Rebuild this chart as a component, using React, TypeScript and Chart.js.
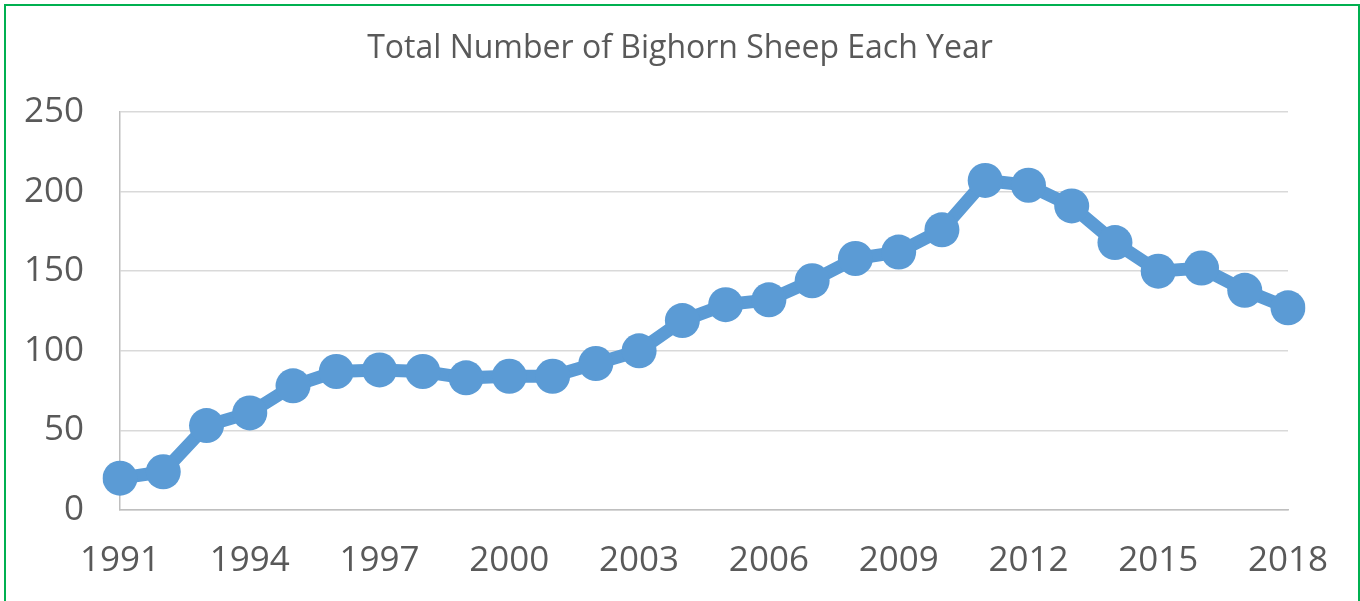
import React, { useEffect, useRef } from "react";
import { Chart, registerables } from "chart.js";

Chart.register(...registerables);

const years: string[] = [
  "1991", "1992", "1993", "1994", "1995", "1996", "1997", "1998", "1999", "2000",
  "2001", "2002", "2003", "2004", "2005", "2006", "2007", "2008", "2009", "2010",
  "2011", "2012", "2013", "2014", "2015", "2016", "2017", "2018",
];

const sheepCounts: number[] = [
  20, 24, 53, 61, 78, 87, 88, 87, 83, 84,
  84, 92, 100, 119, 129, 132, 144, 158, 162, 176,
  207, 204, 191, 168, 150, 152, 138, 127,
];

const yTicks: number[] = [0, 50, 100, 150, 200, 250];

const chartTitle = "Total Number of Bighorn Sheep Each Year";

export default function App() {
  const canvasRef = useRef<HTMLCanvasElement | null>(null);

  useEffect(() => {
    document.body.style.margin = "0";
    const canvas = canvasRef.current;
    if (!canvas) return;
    const font = "'Open Sans', sans-serif";
    const chart = new Chart(canvas, {
      type: "line",
      data: {
        labels: years,
        datasets: [
          {
            data: sheepCounts,
            borderColor: "#5B9BD5",
            backgroundColor: "#5B9BD5",
            borderWidth: 13,
            pointRadius: 17.5,
            pointHoverRadius: 17.5,
            pointBorderWidth: 0,
            pointBackgroundColor: "#5B9BD5",
            tension: 0,
            yAxisID: "y",
          },
        ],
      },
      options: {
        responsive: false,
        animation: false,
        layout: { padding: 0 },
        plugins: {
          legend: { display: false },
          tooltip: { enabled: false },
          title: {
            display: true,
            text: chartTitle,
            color: "#595959",
            font: { family: font, size: 32, weight: "normal", lineHeight: 1.2 },
            padding: { top: 30, bottom: 43.6 },
          },
        },
        scales: {
          x: {
            offset: false,
            grid: { display: false, drawTicks: false },
            border: { display: true, color: "#BFBFBF", width: 1.5 },
            ticks: {
              color: "#595959",
              font: { family: font, size: 35 },
              padding: 30,
              maxRotation: 0,
              autoSkip: false,
              callback: (_v: any, i: number) => (i % 3 === 0 ? years[i] : ""),
            },
            afterFit: (scale: any) => {
              scale.height = 91;
            },
          },
          y: {
            min: 0,
            max: 250,
            afterBuildTicks: (scale: any) => {
              scale.ticks = yTicks.map((v) => ({ value: v }));
            },
            grid: { color: "#D9D9D9", lineWidth: 1.5, drawTicks: false },
            border: { display: true, color: "#BFBFBF", width: 1.5 },
            ticks: {
              color: "#595959",
              font: { family: font, size: 35 },
              padding: 36,
            },
            afterFit: (scale: any) => {
              scale.width = 120;
            },
          },
          yRight: {
            position: "right",
            min: 0,
            max: 250,
            grid: { display: false, drawTicks: false },
            border: { display: false },
            ticks: { display: false },
            afterFit: (scale: any) => {
              scale.width = 72;
            },
          },
        },
      },
    });
    return () => chart.destroy();
  }, []);

  return (
    <div style={{ position: "relative", width: 1360, height: 601 }}>
      <canvas ref={canvasRef} width={1360} height={601} style={{ display: "block" }} />
      <div
        style={{
          position: "absolute",
          left: 4,
          top: 4,
          width: 1356,
          height: 600,
          border: "2px solid #00B050",
          borderBottomColor: "#D5F0E8",
          boxSizing: "border-box",
          pointerEvents: "none",
        }}
      />
    </div>
  );
}
